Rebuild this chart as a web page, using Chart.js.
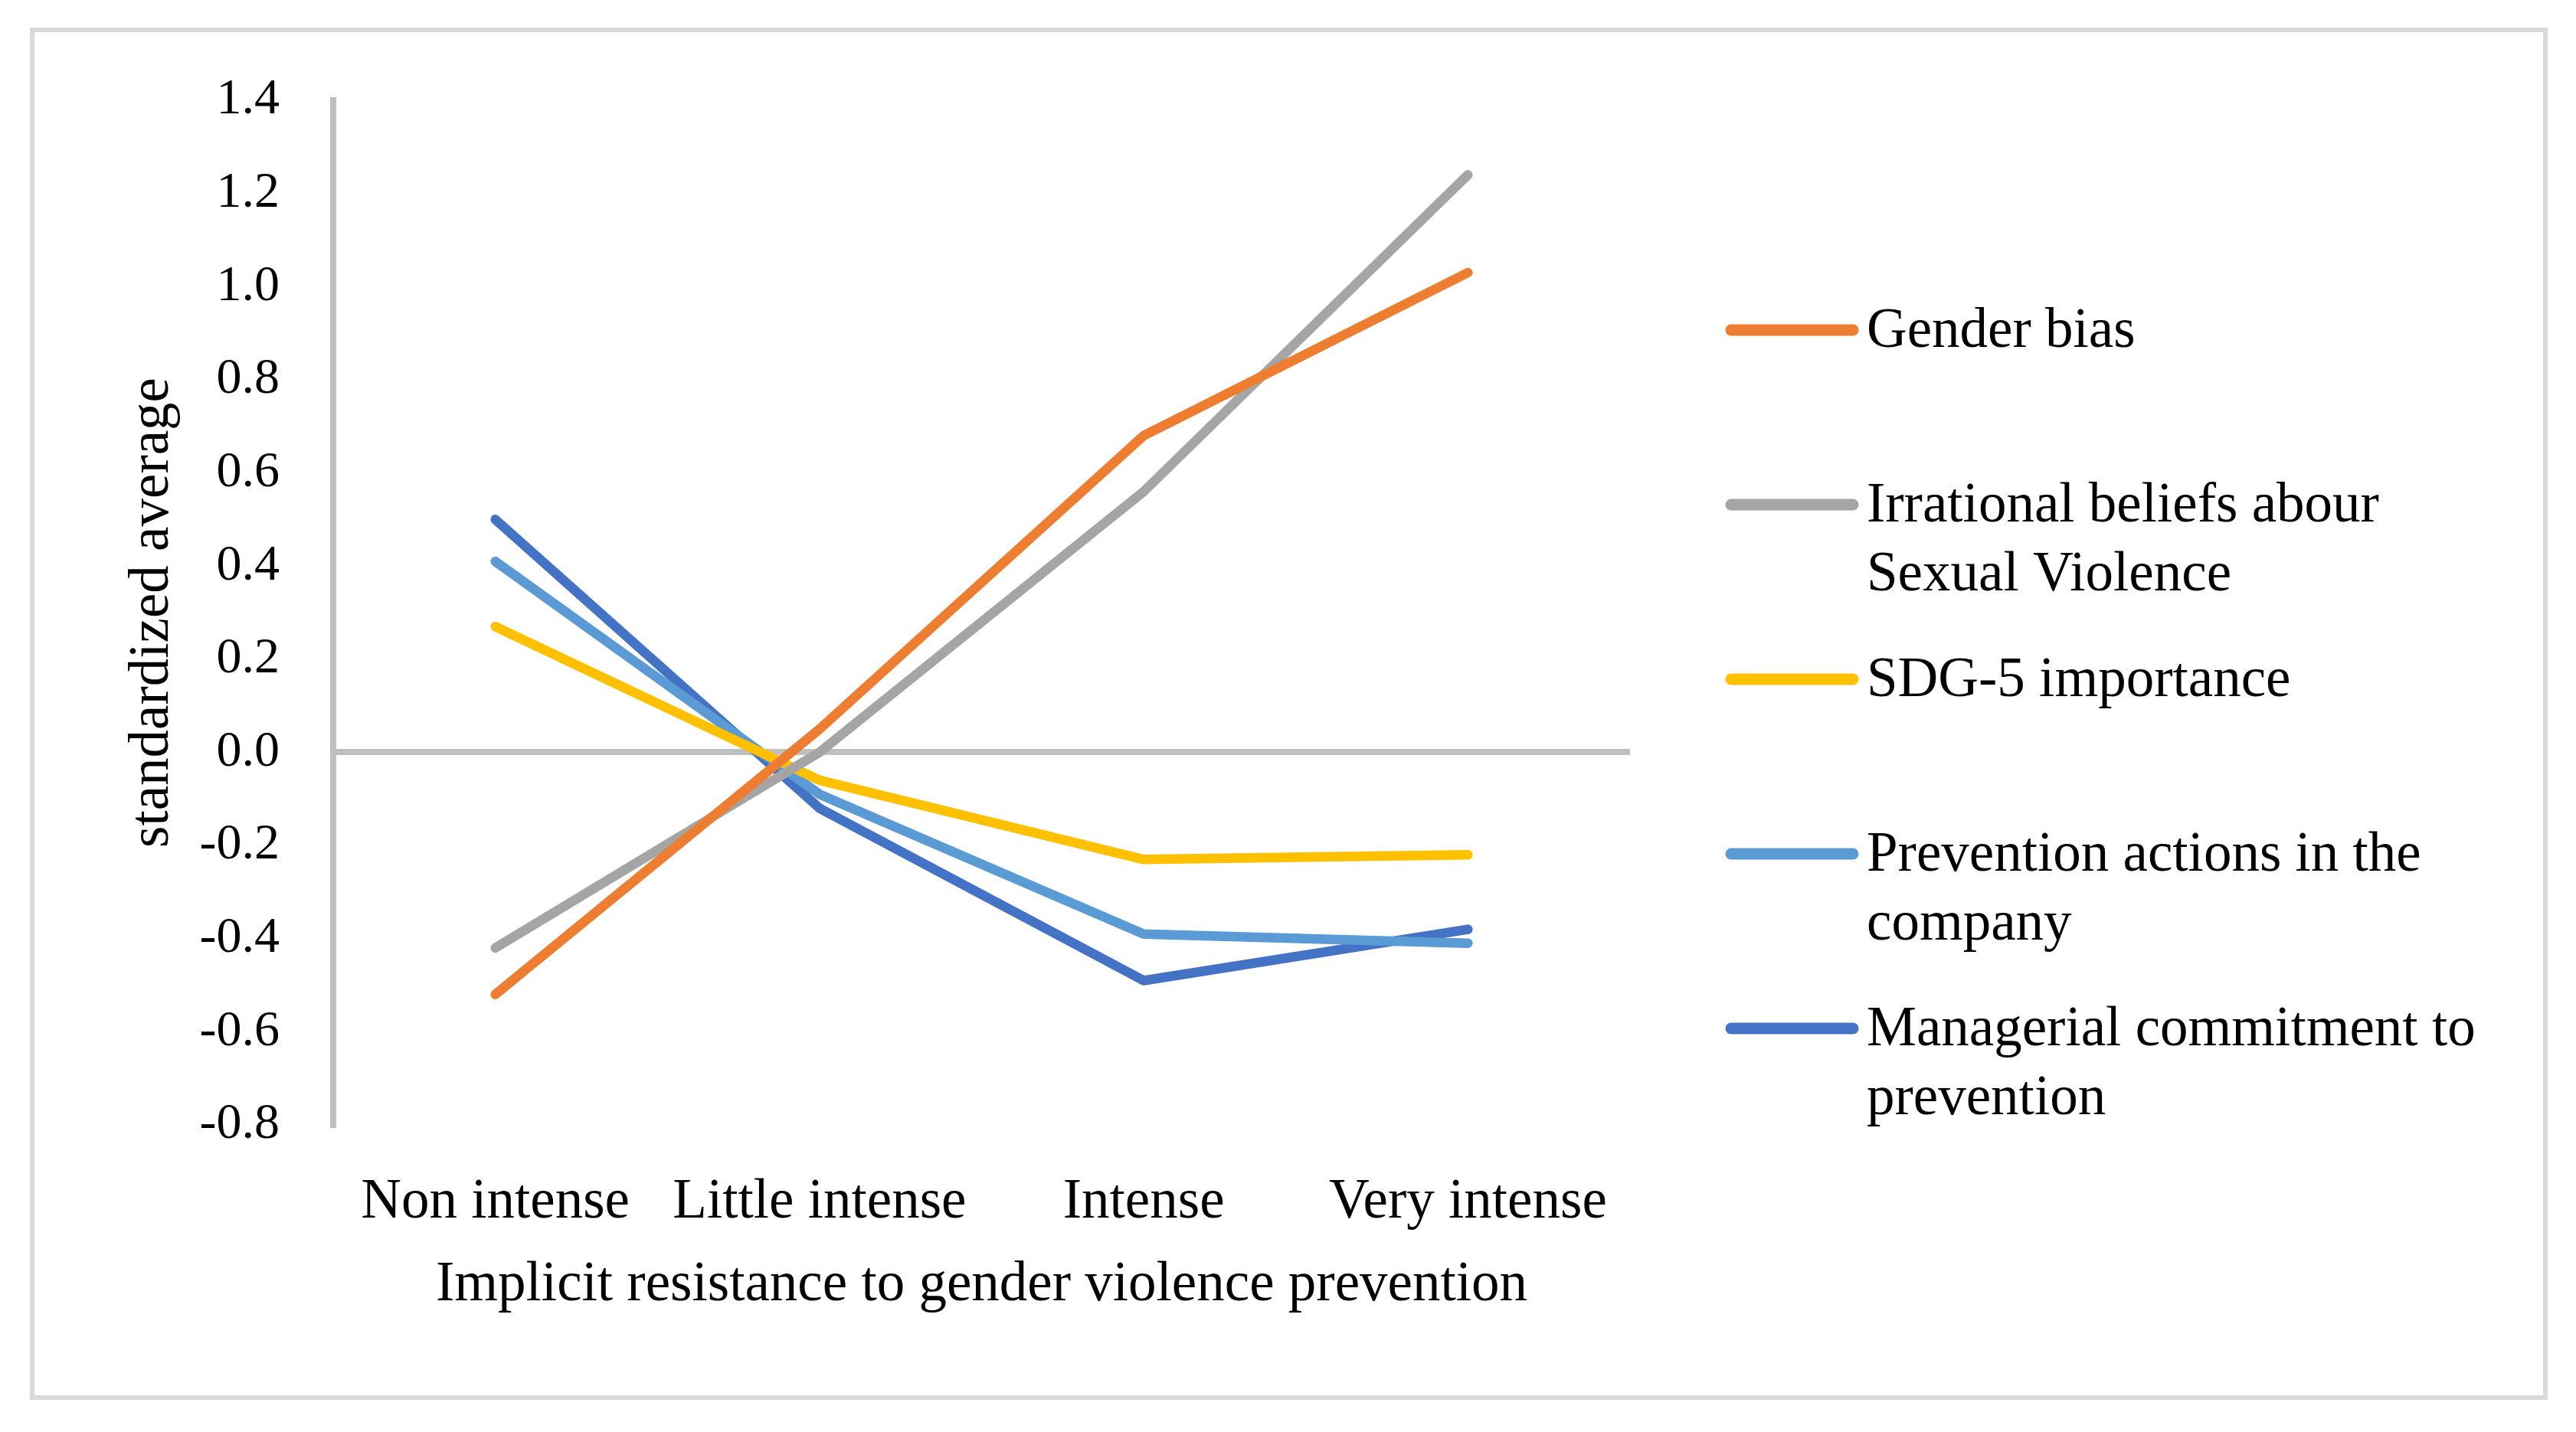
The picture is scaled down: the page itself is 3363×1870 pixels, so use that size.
<!DOCTYPE html>
<html lang="en">
<head>
<meta charset="UTF-8">
<title>Implicit resistance to gender violence prevention</title>
<script src="https://cdn.jsdelivr.net/npm/chart.js"></script>
<style>
  html, body { margin: 0; padding: 0; background: #fff; }
  #wrap { position: relative; width: 3363px; height: 1870px; }
  #frame { position: absolute; left: 39px; top: 36px; width: 3287px; height: 1792px;
           box-sizing: border-box; border: 6px solid #d9d9d9; pointer-events: none; }
  canvas { position: absolute; left: 0; top: 0; }
</style>
</head>
<body>
<div id="wrap">
  <canvas id="lineChart" width="3363" height="1870"></canvas>
  <div id="frame"></div>
</div>

<script>
const categories = ['Non intense', 'Little intense', 'Intense', 'Very intense'];
const seriesNames = [
    'Gender bias',
    'Irrational beliefs abour Sexual Violence',
    'SDG-5 importance',
    'Prevention actions in the company',
    'Managerial commitment to prevention'
];
const genderBias = [-0.52, 0.05, 0.68, 1.03];
const irrationalBeliefs = [-0.42, 0.00, 0.56, 1.24];
const sdg5Importance = [0.27, -0.06, -0.23, -0.22];
const preventionActions = [0.41, -0.09, -0.39, -0.41];
const managerialCommitment = [0.50, -0.12, -0.49, -0.38];
const yTicks = [-0.8, -0.6, -0.4, -0.2, 0.0, 0.2, 0.4, 0.6, 0.8, 1.0, 1.2, 1.4];

const seriesValues = [genderBias, irrationalBeliefs, sdg5Importance, preventionActions, managerialCommitment];
const seriesColors = ['#ed7d31', '#a5a5a5', '#ffc000', '#5b9bd5', '#4472c4'];

const FONT = '"Liberation Serif", "Times New Roman", serif';
Chart.defaults.font.family = FONT;
Chart.defaults.color = '#000';

// legend on the right, wrapped like the original
const sideLegend = {
    id: 'sideLegend',
    afterDraw(chart) {
        const ctx = chart.ctx;
        const textX = 2437, maxW = 860;
        ctx.save();
        ctx.font = '73px ' + FONT;
        ctx.textBaseline = 'middle';
        ctx.textAlign = 'left';
        chart.data.datasets.forEach((ds, i) => {
            const y = 431 + i * 228;
            ctx.strokeStyle = ds.borderColor;
            ctx.lineWidth = 15;
            ctx.lineCap = 'round';
            ctx.beginPath();
            ctx.moveTo(2260, y);
            ctx.lineTo(2419, y);
            ctx.stroke();

            const words = ds.label.split(' ');
            const lines = [];
            let cur = '';
            words.forEach(w => {
                const test = cur ? cur + ' ' + w : w;
                if (ctx.measureText(test).width > maxW && cur) {
                    lines.push(cur);
                    cur = w;
                } else {
                    cur = test;
                }
            });
            lines.push(cur);
            ctx.fillStyle = '#000';
            lines.forEach((ln, j) => ctx.fillText(ln, textX, y + 3 + j * 90));
        });
        ctx.restore();
    }
};

const ctx = document.getElementById('lineChart').getContext('2d');
new Chart(ctx, {
    type: 'line',
    data: {
        labels: categories,
        datasets: seriesNames.map((name, i) => ({
            label: name,
            data: seriesValues[i],
            borderColor: seriesColors[i],
            backgroundColor: seriesColors[i],
            borderWidth: 12.5,
            borderCapStyle: 'round',
            borderJoinStyle: 'round',
            pointRadius: 0,
            pointHoverRadius: 0,
            tension: 0,
            fill: false
        }))
    },
    options: {
        responsive: false,
        animation: false,
        layout: { padding: { left: 0, top: 131, right: 1235, bottom: 0 } },
        plugins: {
            legend: { display: false },
            tooltip: { enabled: false }
        },
        scales: {
            x: {
                offset: true,
                grid: { display: false },
                border: { display: false },
                ticks: {
                    autoSkip: false,
                    maxRotation: 0,
                    minRotation: 0,
                    padding: 50,
                    font: { size: 73 }
                },
                title: {
                    display: true,
                    text: 'Implicit resistance to gender violence prevention',
                    font: { size: 73 },
                    padding: { top: 0, bottom: 147 }
                },
                afterFit(scale) { scale.height = 401; }
            },
            y: {
                min: -0.8,
                max: 1.4,
                afterBuildTicks(scale) {
                    scale.ticks = yTicks.map(v => ({ value: v }));
                },
                grid: {
                    drawTicks: false,
                    lineWidth: 8,
                    color: c => (c.tick && Math.abs(c.tick.value) < 1e-9) ? '#bfbfbf' : 'rgba(0,0,0,0)'
                },
                border: { display: true, color: '#bfbfbf', width: 8 },
                ticks: {
                    padding: 70,
                    font: { size: 66 },
                    callback: v => Number(v).toFixed(1)
                },
                title: {
                    display: true,
                    text: 'standardized average',
                    font: { size: 73 },
                    padding: { top: 156, bottom: 0 }
                },
                afterFit(scale) { scale.width = 435; }
            }
        }
    },
    plugins: [sideLegend]
});
</script>
</body>
</html>
